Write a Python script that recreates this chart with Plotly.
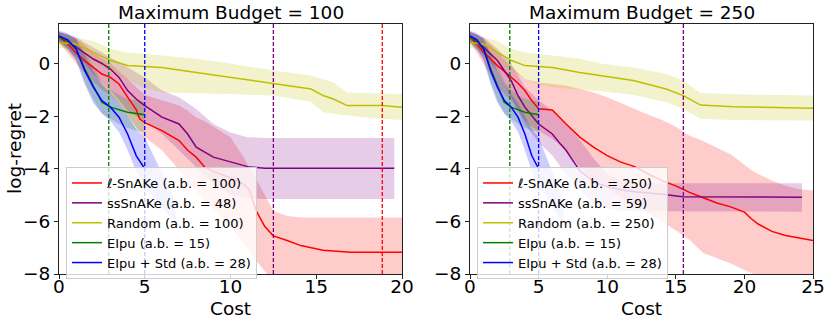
import plotly.graph_objects as go

# ---------------- data: left panel (Maximum Budget = 100) ----------------
red_x_L = [0, 0.5, 1, 1.5, 2, 2.5, 3, 3.5, 4, 4.5, 4.7, 5, 6, 7, 7.5, 8, 8.5, 9, 10, 10.8, 11.1, 11.5, 12, 12.5, 13.3, 14.1, 15.4, 17, 20]
red_m_L = [1.0, 0.75, 0.4, 0.1, -0.15, -0.4, -0.53, -0.78, -1.28, -1.75, -2.1, -2.25, -2.55, -2.93, -3.3, -3.56, -3.94, -4.1, -4.35, -4.6, -4.8, -5.6, -6.2, -6.55, -6.73, -6.92, -7.1, -7.17, -7.17]
red_u_L = [1.2, 1.1, 0.95, 0.7, 0.4, 0.2, 0.0, -0.3, -0.6, -0.9, -1.05, -1.2, -1.4, -1.6, -1.8, -2.05, -2.2, -2.4, -2.8, -3.6, -4.0, -4.4, -5.0, -5.6, -5.8, -5.85, -5.85, -5.85, -5.85]
red_l_L = [0.8, 0.4, 0.0, -0.35, -0.7, -1.0, -1.2, -1.5, -2.0, -2.4, -2.6, -2.8, -3.3, -4.05, -4.45, -4.85, -5.2, -5.5, -6.2, -6.9, -7.1, -7.5, -7.9, -8.3, -8.5, -8.6, -8.6, -8.6, -8.6]

pur_x_L = [0, 0.5, 1, 1.5, 2, 2.5, 3, 3.5, 4, 4.5, 5, 6, 7, 7.5, 8, 9, 10, 11, 12, 19.55]
pur_m_L = [1.0, 0.85, 0.62, 0.4, 0.17, 0.0, -0.21, -0.53, -1.03, -1.35, -1.6, -2.04, -2.3, -2.68, -3.18, -3.56, -3.75, -3.92, -3.98, -3.98]
pur_u_L = [1.2, 1.1, 1.0, 0.8, 0.6, 0.42, 0.23, 0.05, -0.15, -0.35, -0.53, -1.03, -1.28, -1.5, -1.73, -2.3, -2.62, -2.8, -2.83, -2.83]
pur_l_L = [0.8, 0.55, 0.25, 0.0, -0.4, -0.7, -1.0, -1.4, -1.79, -2.0, -2.17, -2.68, -3.3, -3.6, -3.94, -4.58, -5.0, -5.12, -5.15, -5.15]

yel_x_L = [0, 1, 2, 3, 4, 5, 6, 8, 10, 12.5, 14.7, 15.4, 16, 16.8, 18.8, 20]
yel_m_L = [0.8, 0.74, 0.42, 0.12, -0.08, -0.12, -0.15, -0.34, -0.53, -0.78, -0.97, -1.22, -1.35, -1.6, -1.6, -1.66]
yel_u_L = [1.0, 0.98, 0.85, 0.55, 0.42, 0.35, 0.3, 0.18, 0.0, -0.27, -0.46, -0.6, -0.72, -1.1, -1.12, -1.16]
yel_l_L = [0.6, 0.5, 0.0, -0.27, -0.65, -0.95, -1.1, -1.12, -1.16, -1.22, -1.45, -1.85, -1.9, -1.98, -2.1, -2.15]

# ---------------- data: right panel (Maximum Budget = 250) ----------------
red_x_R = [0, 0.5, 1, 1.5, 2, 2.5, 3, 3.5, 4, 4.5, 5, 6, 7, 8, 9, 10, 11, 12, 13, 14, 15, 16, 17, 18, 19, 20, 20.5, 21, 22, 23, 24, 25]
red_m_R = [1.0, 0.75, 0.42, 0.15, -0.08, -0.3, -0.53, -0.75, -1.03, -1.41, -1.72, -1.77, -2.3, -2.8, -3.18, -3.5, -3.75, -3.92, -4.2, -4.45, -4.65, -4.9, -5.1, -5.3, -5.45, -5.65, -5.9, -6.1, -6.38, -6.54, -6.63, -6.73]
red_u_R = [1.2, 1.1, 0.95, 0.7, 0.45, 0.15, -0.1, -0.35, -0.59, -0.66, -0.72, -0.78, -0.84, -0.97, -1.1, -1.28, -1.5, -1.75, -1.95, -2.15, -2.4, -2.75, -2.95, -3.2, -3.45, -3.85, -4.05, -4.2, -4.45, -4.65, -4.78, -4.83]
red_l_R = [0.8, 0.4, 0.0, -0.45, -0.9, -1.15, -1.41, -1.8, -2.17, -2.4, -2.55, -2.87, -3.3, -3.94, -4.45, -4.75, -5.1, -5.4, -5.7, -6.0, -6.35, -6.7, -7.2, -7.4, -7.6, -7.85, -7.95, -8.1, -8.3, -8.4, -8.5, -8.5]

pur_x_R = [0, 1, 2, 3, 3.5, 4, 5, 6, 6.5, 7, 7.5, 8, 9, 10, 11, 12, 14, 15.5, 24.2]
pur_m_R = [1.0, 0.61, 0.11, -0.65, -1.22, -1.66, -2.3, -2.68, -3.0, -3.3, -3.69, -4.07, -4.5, -4.68, -4.8, -4.87, -4.97, -5.06, -5.08]
pur_u_R = [1.2, 1.0, 0.55, 0.0, -0.45, -0.9, -1.4, -1.8, -2.05, -2.3, -2.6, -2.9, -3.6, -4.2, -4.45, -4.55, -4.55, -4.55, -4.55]
pur_l_R = [0.8, 0.3, -0.3, -1.3, -1.8, -2.3, -3.0, -3.5, -3.85, -4.2, -4.5, -4.8, -5.3, -5.5, -5.6, -5.62, -5.63, -5.63, -5.63]

yel_x_R = [0, 1, 2, 3, 4, 5, 6, 8, 9.5, 11.9, 14.3, 15.55, 16.8, 19.2, 25]
yel_m_R = [0.8, 0.74, 0.42, 0.12, -0.08, -0.12, -0.15, -0.34, -0.46, -0.65, -0.97, -1.22, -1.58, -1.64, -1.7]
yel_u_R = [1.0, 0.98, 0.85, 0.55, 0.42, 0.35, 0.3, 0.18, 0.0, -0.15, -0.4, -0.65, -1.12, -1.17, -1.22]
yel_l_R = [0.6, 0.5, 0.0, -0.27, -0.6, -0.8, -0.9, -1.0, -1.05, -1.2, -1.47, -1.73, -2.1, -2.15, -2.17]

# ---------------- data: shared (EIpu and EIpu + Std) ----------------
grn_x = [0, 0.5, 1, 1.5, 2, 2.5, 3, 3.5, 4, 4.5, 5]
grn_m = [1.0, 0.85, 0.55, -0.2, -0.85, -1.47, -1.66, -1.75, -1.85, -1.9, -1.95]
grn_u = [1.2, 1.1, 0.9, 0.4, -0.1, -0.7, -1.0, -1.2, -1.35, -1.4, -1.45]
grn_l = [0.8, 0.5, 0.15, -0.7, -1.4, -1.9, -2.1, -2.3, -2.45, -2.55, -2.6]

blu_x = [0, 0.5, 1, 1.5, 2, 2.5, 3, 3.5, 4, 4.5, 5]
blu_m = [1.05, 0.9, 0.55, -0.27, -0.9, -1.41, -1.66, -2.04, -2.68, -3.5, -4.0]
blu_bx = [0, 0.5, 1, 1.5, 2, 2.5, 3, 3.5, 4, 4.5, 5, 5.8, 6.8]
blu_u = [1.25, 1.15, 0.95, 0.3, -0.3, -0.8, -1.15, -1.5, -2.0, -2.5, -2.8, -3.9, -5.2]
blu_l = [0.85, 0.6, 0.1, -0.8, -1.5, -1.9, -2.2, -2.6, -3.3, -4.1, -4.6, -5.3, -6.1]

titles = ["Maximum Budget = 100", "Maximum Budget = 250"]
ab_L = [100, 48, 100, 15, 28]
ab_R = [250, 59, 250, 15, 28]
vline_L = [2.9, 5.0, 12.5, 18.85]
vline_R = [2.9, 5.0, 15.55]
xmax = [20, 25]
xticks_L = [0, 5, 10, 15, 20]
xticks_R = [0, 5, 10, 15, 20, 25]
yticks = [-8, -6, -4, -2, 0]

# ---------------- styles ----------------
FONT = "'DejaVu Sans', Verdana, sans-serif"
FS = 18.5
COL = {"red": (255, 0, 0), "purple": (128, 0, 128), "yellow": (191, 191, 0),
       "green": (0, 128, 0), "blue": (0, 0, 255)}


def rgb(c, a=1.0):
    r, g, b = COL[c]
    return f"rgba({r},{g},{b},{a})"


fig = go.Figure()

panels = [
    dict(xa="x", ya="y", leg="legend", ab=ab_L, vl=vline_L, vlc=["green", "blue", "purple", "red"],
         series=[
             ("red", "ℓ-SnAKe", red_x_L, red_m_L, red_x_L, red_u_L, red_l_L),
             ("purple", "ssSnAKe", pur_x_L, pur_m_L, pur_x_L, pur_u_L, pur_l_L),
             ("yellow", "Random", yel_x_L, yel_m_L, yel_x_L, yel_u_L, yel_l_L),
             ("green", "EIpu", grn_x, grn_m, grn_x, grn_u, grn_l),
             ("blue", "EIpu + Std", blu_x, blu_m, blu_bx, blu_u, blu_l),
         ]),
    dict(xa="x2", ya="y2", leg="legend2", ab=ab_R, vl=vline_R, vlc=["green", "blue", "purple"],
         series=[
             ("red", "ℓ-SnAKe", red_x_R, red_m_R, red_x_R, red_u_R, red_l_R),
             ("purple", "ssSnAKe", pur_x_R, pur_m_R, pur_x_R, pur_u_R, pur_l_R),
             ("yellow", "Random", yel_x_R, yel_m_R, yel_x_R, yel_u_R, yel_l_R),
             ("green", "EIpu", grn_x, grn_m, grn_x, grn_u, grn_l),
             ("blue", "EIpu + Std", blu_x, blu_m, blu_bx, blu_u, blu_l),
         ]),
]

shapes = []
for p in panels:
    for (c, name, mx, my, bx, bu, bl) in p["series"]:
        fig.add_trace(go.Scatter(
            x=list(bx) + list(bx)[::-1], y=list(bu) + list(bl)[::-1],
            fill="toself", fillcolor=rgb(c, 0.2), line=dict(width=0),
            mode="lines", hoverinfo="skip", showlegend=False,
            xaxis=p["xa"], yaxis=p["ya"]))
    for (c, name, mx, my, bx, bu, bl), ab in zip(p["series"], p["ab"]):
        fig.add_trace(go.Scatter(
            x=mx, y=my, mode="lines", line=dict(color=rgb(c), width=1.5),
            name=f"{name} (a.b. = {ab})", legend=p["leg"],
            xaxis=p["xa"], yaxis=p["ya"]))
    for xv, c in zip(p["vl"], p["vlc"]):
        shapes.append(dict(type="line", xref=p["xa"], yref=f"{p['ya']} domain",
                           x0=xv, x1=xv, y0=0, y1=1,
                           line=dict(color=rgb(c), width=1.3, dash="4px,2px")))

axis_common = dict(showline=True, mirror=True, linecolor="#222", linewidth=1,
                   ticks="outside", ticklen=4, tickcolor="#222", automargin=False,
                   tickfont=dict(size=FS, family=FONT, color="black"),
                   showgrid=False, zeroline=False)

W, H = 830, 324
xdomL = [59 / W, 402 / W]
xdomR = [470 / W, 813 / W]
ydom = [(H - 274) / H, (H - 24) / H]

leg_common = dict(bgcolor="rgba(255,255,255,0.8)", bordercolor="#cccccc", borderwidth=1,
                  font=dict(size=13, family=FONT, color="black"), xanchor="left",
                  yanchor="top", tracegroupgap=0, itemwidth=30)

fig.update_layout(
    template="none",
    width=W, height=H, margin=dict(l=0, r=0, t=0, b=0, pad=0),
    plot_bgcolor="white", paper_bgcolor="white",
    font=dict(family=FONT, color="black"),
    xaxis=dict(domain=xdomL, range=[0, xmax[0]], tickvals=xticks_L, anchor="y",
               ticklabelstandoff=-8, **axis_common),
    yaxis=dict(domain=ydom, range=[-8, 1.5], tickvals=yticks, anchor="x", **axis_common),
    xaxis2=dict(domain=xdomR, range=[0, xmax[1]], tickvals=xticks_R, anchor="y2",
                ticklabelstandoff=-8, **axis_common),
    yaxis2=dict(domain=ydom, range=[-8, 1.5], tickvals=yticks, anchor="x2", **axis_common),
    legend=dict(x=66 / W, y=(H - 167) / H, **leg_common),
    legend2=dict(x=477 / W, y=(H - 167) / H, **leg_common),
    shapes=shapes,
    showlegend=True,
)

ann = []
for dom, t in zip([xdomL, xdomR], titles):
    cx = (dom[0] + dom[1]) / 2
    ann.append(dict(text=t, x=cx, y=(H - 13) / H, xref="paper", yref="paper",
                    showarrow=False, font=dict(size=FS, family=FONT), xanchor="center", yanchor="middle"))
    ann.append(dict(text="Cost", x=cx, y=(H - 308) / H, xref="paper", yref="paper",
                    showarrow=False, font=dict(size=FS, family=FONT), xanchor="center", yanchor="middle"))
ann.append(dict(text="log-regret", x=14 / W, y=(H - 149) / H, xref="paper", yref="paper",
                showarrow=False, textangle=-90, font=dict(size=FS, family=FONT),
                xanchor="center", yanchor="middle"))
fig.update_layout(annotations=ann)

fig.write_html("out.html", config={"displayModeBar": False},
               post_script="document.body.style.margin='0';document.body.style.overflow='hidden';")
